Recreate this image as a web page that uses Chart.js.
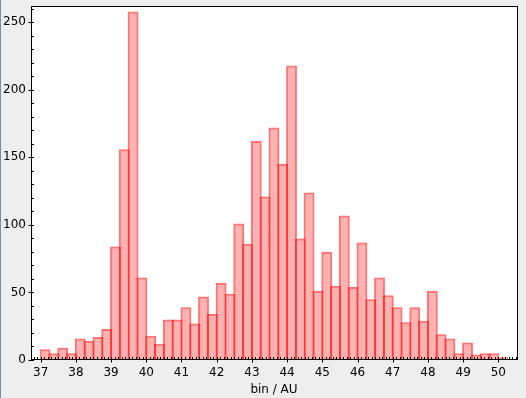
<!DOCTYPE html>
<html>
<head>
<meta charset="utf-8">
<script src="https://cdn.jsdelivr.net/npm/chart.js@4/dist/chart.umd.min.js"></script>
<style>
  html, body { margin: 0; padding: 0; background: #eeeeee; }
  canvas { display: block; }
</style>
</head>
<body>
<canvas id="histChart" width="526" height="398"></canvas>
<script>
"use strict";

// DATA ----------------------------
const binCenters = [
  37.125, 37.375, 37.625, 37.875, 38.125, 38.375, 38.625, 38.875,
  39.125, 39.375, 39.625, 39.875, 40.125, 40.375, 40.625, 40.875,
  41.125, 41.375, 41.625, 41.875, 42.125, 42.375, 42.625, 42.875,
  43.125, 43.375, 43.625, 43.875, 44.125, 44.375, 44.625, 44.875,
  45.125, 45.375, 45.625, 45.875, 46.125, 46.375, 46.625, 46.875,
  47.125, 47.375, 47.625, 47.875, 48.125, 48.375, 48.625, 48.875,
  49.125, 49.375, 49.625, 49.875, 50.125
];

const counts = [
  8, 5, 9, 5, 16, 14, 17, 23,
  84, 156, 258, 61, 18, 12, 30, 30,
  39, 27, 47, 34, 57, 49, 101, 86,
  162, 121, 172, 145, 218, 90, 124, 51,
  80, 55, 107, 54, 87, 45, 61, 48,
  39, 28, 39, 29, 51, 19, 16, 5,
  13, 4, 5, 5, 2
];

const xTickValues = [37, 38, 39, 40, 41, 42, 43, 44, 45, 46, 47, 48, 49, 50];
const yTickValues = [0, 50, 100, 150, 200, 250];

const xLabel = 'bin / AU';

// STYLE ---------------------------
const tickFont = { family: 'DejaVu Sans', size: 12 };

// Background, plot frame and the small inner ticks
const frameTicks = {
  id: 'frameTicks',
  beforeDraw(chart) {
    const { ctx, chartArea: a } = chart;
    ctx.save();
    ctx.fillStyle = '#eeeeee';
    ctx.fillRect(0, 0, chart.width, chart.height);
    ctx.fillStyle = '#ffffff';
    ctx.fillRect(a.left, a.top, a.right - a.left, a.bottom - a.top);
    ctx.fillStyle = '#7d8c9c';
    ctx.fillRect(0, 0, 1, chart.height);
    ctx.restore();
  },
  afterDraw(chart) {
    const { ctx, chartArea: a } = chart;
    const xs = chart.scales.x;
    const ys = chart.scales.y;
    const left = a.left + 0.5;
    const bottom = a.bottom - 0.5;
    ctx.save();
    ctx.strokeStyle = '#000000';
    ctx.lineWidth = 1;
    ctx.strokeRect(left, a.top + 0.5, a.right - a.left, a.bottom - a.top - 1);

    ctx.beginPath();
    // y minor ticks every 10, major at labels
    for (let v = 0; v <= ys.max; v += 10) {
      const py = Math.round(ys.getPixelForValue(v)) + 0.5;
      const major = yTickValues.includes(v);
      ctx.moveTo(major ? left - 3 : left, py);
      ctx.lineTo(left + 2.5, py);
    }
    // x minor ticks every 0.1, major at labels
    for (let i = Math.ceil(xs.min * 10); i <= Math.floor(xs.max * 10); i++) {
      const v = i / 10;
      const px = Math.round(xs.getPixelForValue(v)) + 0.5;
      const major = i % 10 === 0;
      ctx.moveTo(px, bottom - 2.5);
      ctx.lineTo(px, major ? bottom + 3 : bottom);
    }
    ctx.stroke();
    ctx.restore();
  }
};

// CHART ---------------------------
const histChart = new Chart(document.getElementById('histChart'), {
  type: 'bar',
  data: {
    datasets: [{
      data: binCenters.map((x, i) => ({ x: x, y: counts[i] })),
      backgroundColor: 'rgba(255, 0, 0, 0.3)',
      borderColor: 'rgba(255, 0, 0, 0.55)',
      borderWidth: 2,
      borderSkipped: 'start',
      barPercentage: 1.23,
      categoryPercentage: 1
    }]
  },
  options: {
    responsive: false,
    animation: false,
    devicePixelRatio: 1,
    layout: { padding: { top: 6, right: 9, left: 0, bottom: 0 } },
    plugins: {
      legend: { display: false },
      tooltip: { enabled: false }
    },
    scales: {
      x: {
        type: 'linear',
        offset: false,
        min: 36.725,
        max: 50.53,
        grid: { display: false, drawTicks: false },
        border: { display: false },
        afterBuildTicks(scale) {
          scale.ticks = xTickValues.map(v => ({ value: v }));
        },
        ticks: {
          font: tickFont,
          color: '#000000',
          padding: 6,
          maxRotation: 0,
          autoSkip: false,
          includeBounds: false
        },
        title: {
          display: true,
          text: xLabel,
          font: tickFont,
          color: '#000000',
          padding: { top: 0, bottom: 1 }
        },
        afterFit(scale) {
          scale.height = 38;
          scale.paddingLeft = 0;
          scale.paddingRight = 0;
        }
      },
      y: {
        min: 0,
        max: 262,
        grid: { display: false, drawTicks: false },
        border: { display: false },
        afterBuildTicks(scale) {
          scale.ticks = yTickValues.map(v => ({ value: v }));
        },
        ticks: {
          font: tickFont,
          color: '#000000',
          padding: 5,
          includeBounds: false
        },
        afterFit(scale) {
          scale.width = 31;
          scale.paddingTop = 0;
          scale.paddingBottom = 0;
        }
      }
    }
  },
  plugins: [frameTicks]
});
</script>
</body>
</html>
